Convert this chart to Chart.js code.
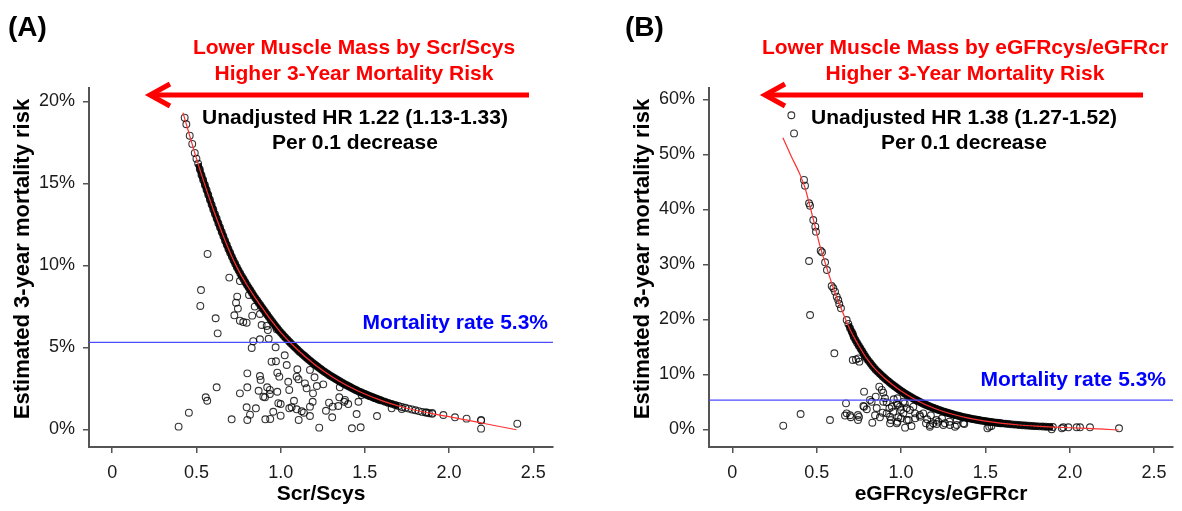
<!DOCTYPE html>
<html><head><meta charset="utf-8">
<script src="https://cdn.jsdelivr.net/npm/chart.js@4.4.1/dist/chart.umd.min.js"></script>
<style>
html,body{margin:0;padding:0;background:#fff;}
#wrap{position:relative;width:1182px;height:511px;overflow:hidden;background:#fff;}
.panel{position:absolute;top:0;width:591px;height:511px;}
canvas{display:block;}
</style></head><body>
<div id="wrap">
<div class="panel" style="left:0"><canvas id="cA" width="591" height="511"></canvas></div>
<div class="panel" style="left:591px"><canvas id="cB" width="591" height="511"></canvas></div>
</div>
<script>
// ---------- tick labels ----------
const xTicks = [0, 0.5, 1, 1.5, 2, 2.5];
const xTickLabels = ['0', '0.5', '1.0', '1.5', '2.0', '2.5'];
const yTicksA = [0, 5, 10, 15, 20];
const yTickLabelsA = ['0%', '5%', '10%', '15%', '20%'];
const yTicksB = [0, 10, 20, 30, 40, 50, 60];
const yTickLabelsB = ['0%', '10%', '20%', '30%', '40%', '50%', '60%'];
const mortalityRate = 5.3;

// ---------- Panel A: Scr/Scys ----------
// sparse points at the ends of the curve
const bandTopA = [
[.43,19.0],[.44,18.6],[.46,17.9],[.475,17.4],[.49,16.85],[.50,16.5],
[1.72,1.36],[1.74,1.31],[1.76,1.26],[1.78,1.21],[1.80,1.16],[1.82,1.11],[1.84,1.06],[1.86,1.02],[1.88,0.98],[1.90,0.94]
];
// dense band of points along the curve
const bandA = [
[.51,16.2],[.52,15.85],[.53,15.5],[.54,15.2],
[.55,14.9],[.56,14.6],[.57,14.3],[.58,14.0],[.59,13.7],[.60,13.4],[.61,13.12],[.62,12.85],[.63,12.57],[.64,12.3],
[.65,12.03],[.66,11.77],[.67,11.5],[.68,11.25],[.69,11.0],[.70,10.77],[.71,10.53],[.72,10.3],[.73,10.09],[.74,9.88],
[.75,9.69],[.76,9.5],[.77,9.32],[.78,9.15],[.79,8.97],[.80,8.8],[.81,8.64],[.82,8.48],[.83,8.31],[.84,8.15],
[.85,8.0],[.86,7.85],[.87,7.7],[.88,7.56],[.89,7.41],[.90,7.27],[.91,7.12],[.92,6.98],[.93,6.84],[.94,6.70],
[.95,6.56],[.96,6.42],[.97,6.29],[.98,6.16],[.99,6.03],[1.00,5.91],[1.01,5.80],[1.02,5.68],[1.03,5.57],[1.04,5.47],
[1.05,5.36],[1.06,5.25],[1.07,5.15],[1.08,5.05],[1.09,4.95],[1.10,4.85],[1.11,4.75],[1.12,4.66],[1.13,4.57],[1.14,4.48],
[1.15,4.39],[1.16,4.30],[1.17,4.22],[1.18,4.13],[1.19,4.05],[1.20,3.97],[1.21,3.89],[1.22,3.81],[1.23,3.73],[1.24,3.66],
[1.25,3.58],[1.26,3.51],[1.27,3.44],[1.28,3.37],[1.29,3.30],[1.30,3.24],[1.31,3.18],[1.32,3.11],[1.33,3.05],[1.34,2.99],
[1.35,2.93],[1.36,2.87],[1.37,2.81],[1.38,2.75],[1.39,2.70],[1.40,2.64],[1.41,2.59],[1.42,2.53],[1.43,2.48],[1.44,2.43],
[1.45,2.38],[1.46,2.33],[1.47,2.28],[1.48,2.24],[1.49,2.19],[1.50,2.15],[1.51,2.11],[1.52,2.06],[1.53,2.02],[1.54,1.98],
[1.55,1.94],[1.56,1.90],[1.57,1.86],[1.58,1.82],[1.59,1.79],[1.60,1.75],[1.62,1.68],[1.64,1.61],[1.66,1.55],[1.68,1.48],
[1.70,1.42]
];
const scatterA = [
[.394,.16],[.455,1.01],[.523,7.52],[.527,8.49],[.555,1.95],[.564,1.74],[.566,10.69],[.614,6.77],[.620,2.56],[.626,5.85],
[.695,9.25],[.709,.61],[.725,6.95],[.735,7.72],[.742,8.09],[.746,7.36],[.758,9.04],[.758,6.62],[.758,2.19],[.778,6.54],
[.798,6.50],[.798,1.34],[.802,3.41],[.802,2.56],[.802,.57],[.812,8.19],[.818,.89],[.828,4.96],[.831,6.93],[.837,5.37],
[.846,7.48],[.853,1.28],[.869,2.35],[.877,7.03],[.877,5.49],[.877,3.25],[.881,3.01],[.887,6.36],[.897,1.99],[.907,1.95],
[.909,.61],[.917,6.30],[.920,2.56],[.924,6.05],[.929,5.52],[.936,2.40],[.936,2.15],[.938,.63],[.946,4.12],[.956,1.07],
[.970,5.00],[.972,4.15],[.976,6.10],[.980,3.45],[.980,2.29],[.986,1.59],[.992,3.21],[1.0,1.54],[1.0,.83],[1.024,4.51],
[1.036,3.92],[1.045,2.90],[1.051,2.40],[1.051,1.28],[1.065,1.34],[1.079,1.74],[1.095,3.21],[1.095,1.22],[1.099,3.66],[1.106,3.05],
[1.107,.57],[1.125,1.10],[1.138,1.01],[1.144,2.80],[1.154,2.50],[1.174,3.62],[1.174,1.38],[1.174,.81],[1.190,1.68],[1.192,2.19],
[1.201,3.17],[1.215,2.64],[1.229,.10],[1.253,2.74],[1.269,1.13],[1.287,1.62],[1.306,.73],[1.309,1.38],[1.342,1.42],[1.348,1.95],
[1.351,2.56],[1.378,1.68],[1.382,1.79],[1.401,1.54],[1.423,.06],[1.451,.93],[1.462,1.68],[1.475,.12],[1.481,2.09],[1.572,.81],
[1.659,1.28],[1.719,1.24],[1.867,1.03],[1.90,1.0],[1.966,.87],[2.035,.73],[2.104,.65],[2.19,.53],[2.19,.57],[2.19,.04],[2.405,.34]
];
const fitA = [
[.42,19.3],[.45,18.25],[.50,16.5],[.55,14.9],[.60,13.4],[.65,12.03],[.70,10.77],[.75,9.69],[.80,8.8],[.85,8.0],
[.90,7.27],[.95,6.56],[1.0,5.91],[1.1,4.85],[1.2,3.97],[1.3,3.24],[1.4,2.64],[1.5,2.15],[1.6,1.75],[1.7,1.42],
[1.8,1.16],[1.9,0.95],[2.0,0.77],[2.1,0.57],[2.2,0.37],[2.3,0.17],[2.4,-0.03]
];

// ---------- Panel B: eGFRcys/eGFRcr ----------
const bandTopB = [
[.425,45.33],[.431,44.29],[.455,41.09],[.461,40.65],[.48,38.05],[.492,36.84],[.496,35.93],[.524,32.47],[.532,32.18],[.55,30.36],
[.561,28.96],[.589,26.05],[.599,25.63],[.609,25.02],[.619,24.11],[.628,23.51],[.634,22.78],[.644,22.0],[.678,19.87]
];
const bandB = [
[.688,19.15],[.698,18.36],[.708,17.75],[.715,17.3],[.72,16.8],[.73,16.25],[.74,15.7],[.75,15.2],[.76,14.7],[.77,14.2],[.78,13.7],
[.79,13.2],[.80,12.75],[.81,12.35],[.82,11.95],[.83,11.55],[.84,11.2],[.85,10.84],[.86,10.53],[.87,10.23],[.88,9.94],
[.89,9.66],[.90,9.38],[.91,9.11],[.92,8.85],[.93,8.59],[.94,8.34],[.95,8.10],[.96,7.86],[.97,7.63],[.98,7.41],
[.99,7.19],[1.00,6.98],[1.01,6.77],[1.02,6.57],[1.03,6.37],[1.04,6.18],[1.05,6.00],[1.06,5.82],[1.07,5.65],[1.08,5.48],
[1.09,5.32],[1.10,5.16],[1.11,5.00],[1.12,4.85],[1.13,4.70],[1.14,4.56],[1.15,4.42],[1.16,4.29],[1.17,4.16],[1.18,4.03],
[1.19,3.91],[1.20,3.79],[1.21,3.68],[1.22,3.56],[1.23,3.46],[1.24,3.35],[1.25,3.25],[1.26,3.15],[1.27,3.05],[1.28,2.96],
[1.29,2.87],[1.30,2.78],[1.31,2.69],[1.32,2.61],[1.33,2.53],[1.34,2.45],[1.35,2.37],[1.36,2.30],[1.37,2.22],[1.38,2.16],
[1.39,2.09],[1.40,2.03],[1.41,1.97],[1.42,1.90],[1.43,1.84],[1.44,1.79],[1.45,1.73],[1.46,1.68],[1.47,1.62],[1.48,1.57],
[1.49,1.53],[1.50,1.48],[1.51,1.43],[1.52,1.39],[1.53,1.35],[1.54,1.30],[1.55,1.26],[1.56,1.22],[1.57,1.18],[1.58,1.15],
[1.59,1.11],[1.60,1.08],[1.62,1.01],[1.64,0.95],[1.66,0.89],[1.68,0.84],[1.70,0.78],[1.72,0.74],[1.74,0.69],[1.76,0.65],
[1.78,0.61],[1.80,0.57],[1.82,0.53],[1.84,0.50],[1.86,0.47],[1.88,0.44],[1.90,0.41]
];
const scatterB = [
[.302,.65],[.350,57.1],[.366,53.8],[.405,2.78],[.455,30.6],[.461,20.78],[.579,1.69],[.605,13.82],[.668,2.5],[.674,4.72],
[.678,2.9],[.698,2.55],[.702,2.2],[.714,12.6],[.733,12.7],[.747,12.9],[.753,12.3],[.745,2.6],[.751,2.24],[.745,1.69],
[.777,4.24],[.781,6.84],[.781,4.11],[.797,3.64],[.816,5.33],[.826,5.0],[.83,1.2],[.846,2.55],[.85,5.93],[.856,3.87],
[.871,7.75],[.875,2.18],[.886,7.15],[.891,3.02],[.895,6.66],[.895,5.02],[.905,5.64],[.915,4.9],[.915,2.9],[.931,3.82],
[.935,2.3],[.935,1.09],[.94,1.69],[.946,4.1],[.954,3.2],[.957,5.45],[.975,4.72],[.975,1.09],[.979,5.64],[.979,4.4],
[.979,1.38],[.984,2.18],[.994,4.12],[1.0,3.5],[1.0,2.0],[1.014,5.02],[1.014,2.9],[1.022,4.72],[1.024,.3],[1.034,3.82],
[1.034,1.69],[1.045,1.69],[1.053,3.51],[1.062,.6],[1.073,4.12],[1.083,2.9],[1.084,2.0],[1.111,2.6],[1.113,2.3],[1.132,2.9],
[1.148,1.09],[1.155,1.82],[1.171,.47],[1.172,.78],[1.177,2.55],[1.191,1.09],[1.21,1.69],[1.211,.96],[1.221,1.39],[1.243,2.0],
[1.251,.78],[1.26,1.09],[1.287,1.38],[1.29,.78],[1.32,.47],[1.33,.78],[1.331,1.69],[1.37,1.09],[1.375,.96],[1.512,.18],
[1.523,.47],[1.536,.6],[1.893,0],[1.953,.18],[1.962,.36],[1.992,.36],[2.041,.36],[2.061,.36],[2.12,.36],[2.292,.18]
];
const fitB = [
[.30,53.0],[.35,49.6],[.40,46.4],[.43,44.0],[.46,40.6],[.49,37.0],[.52,33.3],[.55,30.3],[.60,25.6],[.65,21.6],
[.70,18.0],[.75,15.2],[.80,12.75],[.85,10.84],[.90,9.38],[.95,8.10],[1.0,6.98],[1.1,5.16],[1.2,3.79],[1.3,2.78],
[1.4,2.03],[1.5,1.48],[1.6,1.08],[1.7,0.78],[1.8,0.57],[1.9,0.41],[2.0,0.28],[2.1,0.15],[2.2,0.02],[2.29,-0.13]
];

// ---------- drawing ----------
const FONT = "'Liberation Sans', Arial, Helvetica, sans-serif";
const pts = arr => arr.map(p => ({x: p[0], y: p[1]}));
const circle = {
  pointStyle: 'circle', pointRadius: 3.4, pointBorderWidth: 1.1,
  pointBorderColor: 'rgba(0,0,0,0.8)', pointBackgroundColor: 'rgba(0,0,0,0)'
};

function buildPanel(canvasId, P) {
  const texts = {
    id: 'texts' + canvasId,
    afterDatasetsDraw(chart) {
      const ctx = chart.ctx, ca = chart.chartArea;
      const ys = chart.scales.y;
      ctx.save();
      ctx.fillStyle = '#000';
      ctx.font = `bold 28px ${FONT}`;
      ctx.textAlign = 'left'; ctx.textBaseline = 'middle';
      ctx.fillText(P.letter, P.letterX, 28);

      ctx.fillStyle = '#ff0000';
      ctx.font = `bold 21px ${FONT}`;
      ctx.textAlign = 'center';
      ctx.fillText(P.title1, P.titleX, 48);
      ctx.fillText(P.title2, P.titleX, 74);

      ctx.strokeStyle = '#ff0000'; ctx.lineWidth = 5;
      ctx.lineCap = 'butt'; ctx.lineJoin = 'miter';
      ctx.beginPath(); ctx.moveTo(P.arrowEnd, 95); ctx.lineTo(P.arrowTip + 4, 95); ctx.stroke();
      ctx.beginPath(); ctx.moveTo(P.arrowTip + 20, 84); ctx.lineTo(P.arrowTip, 95); ctx.lineTo(P.arrowTip + 20, 106); ctx.stroke();

      ctx.fillStyle = '#000';
      ctx.fillText(P.hr1, P.hrX, 118);
      ctx.fillText(P.hr2, P.hrX, 143);

      ctx.fillStyle = '#0000ff';
      ctx.textAlign = 'right';
      ctx.fillText(P.rateLabel, ca.right - P.rateInset, ys.getPixelForValue(mortalityRate) - P.rateLift);

      ctx.fillStyle = '#000';
      ctx.textAlign = 'center'; ctx.textBaseline = 'alphabetic';
      ctx.fillText(P.xTitle, (ca.left + ca.right) / 2, 500);

      ctx.font = `bold 22px ${FONT}`;
      ctx.translate(ca.left - 60, 259);
      ctx.rotate(-Math.PI / 2);
      ctx.fillText('Estimated 3-year mortality risk', 0, 0);
      ctx.restore();
    }
  };

  new Chart(document.getElementById(canvasId), {
    type: 'scatter',
    data: {
      datasets: [
        { type: 'line', data: [{x: P.xMin, y: mortalityRate}, {x: P.xMax, y: mortalityRate}],
          borderColor: '#4d4dff', borderWidth: 1.3, pointRadius: 0, order: 0 },
        { type: 'line', data: pts(P.fit), borderColor: '#ff3030', borderWidth: 1.2,
          pointRadius: 0, cubicInterpolationMode: 'monotone', order: 1 },
        Object.assign({ type: 'line', data: pts(P.band), order: 2, showLine: true,
          borderColor: 'rgba(0,0,0,0.93)', borderWidth: 6.5, cubicInterpolationMode: 'monotone' }, circle),
        Object.assign({ data: pts(P.bandTop), order: 3, showLine: false }, circle),
        Object.assign({ data: pts(P.scatter), order: 4, showLine: false }, circle)
      ]
    },
    options: {
      responsive: false, animation: false, devicePixelRatio: 1, events: [],
      layout: { padding: { left: 0, top: 88, right: P.padRight, bottom: 0 } },
      plugins: { legend: { display: false }, tooltip: { enabled: false } },
      scales: {
        x: {
          type: 'linear', position: 'bottom', min: P.xMin, max: P.xMax,
          afterBuildTicks: s => { s.ticks = xTicks.map(v => ({ value: v })); },
          afterFit: s => { s.height = 64; },
          ticks: { callback: (v, i) => xTickLabels[i], font: { family: FONT, size: 18 },
                   color: '#1a1a1a', padding: 9, maxRotation: 0, autoSkip: false },
          grid: { drawOnChartArea: false, drawTicks: true, tickLength: 6, color: '#555', lineWidth: 1.5 },
          border: { display: true, color: '#555', width: 2 }
        },
        y: {
          type: 'linear', position: 'left', min: P.yMin, max: P.yMax,
          afterBuildTicks: s => { s.ticks = P.yTicks.map(v => ({ value: v })); },
          afterFit: s => { s.width = P.yLeft; },
          ticks: { callback: (v, i) => P.yLabels[i], font: { family: FONT, size: 18 },
                   color: '#1a1a1a', padding: 8, autoSkip: false },
          grid: { drawOnChartArea: false, drawTicks: true, tickLength: 6, color: '#555', lineWidth: 1.5 },
          border: { display: true, color: '#555', width: 2 }
        }
      }
    },
    plugins: [texts]
  });
}

buildPanel('cA', {
  letter: '(A)', letterX: 8,
  title1: 'Lower Muscle Mass by Scr/Scys', title2: 'Higher 3-Year Mortality Risk', titleX: 354,
  arrowTip: 150, arrowEnd: 529,
  hr1: 'Unadjusted HR 1.22 (1.13-1.33)', hr2: 'Per 0.1 decrease', hrX: 355,
  rateLabel: 'Mortality rate 5.3%', rateInset: 5, rateLift: 19,
  xTitle: 'Scr/Scys',
  yLeft: 89, padRight: 38,
  xMin: -0.138, xMax: 2.617, yMin: -1.08, yMax: 20.81,
  yTicks: yTicksA, yLabels: yTickLabelsA,
  band: bandA, bandTop: bandTopA, scatter: scatterA, fit: fitA
});
buildPanel('cB', {
  letter: '(B)', letterX: 34,
  title1: 'Lower Muscle Mass by eGFRcys/eGFRcr', title2: 'Higher 3-Year Mortality Risk', titleX: 374,
  arrowTip: 174, arrowEnd: 552,
  hr1: 'Unadjusted HR 1.38 (1.27-1.52)', hr2: 'Per 0.1 decrease', hrX: 373,
  rateLabel: 'Mortality rate 5.3%', rateInset: 7, rateLift: 20,
  xTitle: 'eGFRcys/eGFRcr',
  yLeft: 118, padRight: 9,
  xMin: -0.138, xMax: 2.612, yMin: -3.22, yMax: 62.05,
  yTicks: yTicksB, yLabels: yTickLabelsB,
  band: bandB, bandTop: bandTopB, scatter: scatterB, fit: fitB
});
</script>
</body></html>
